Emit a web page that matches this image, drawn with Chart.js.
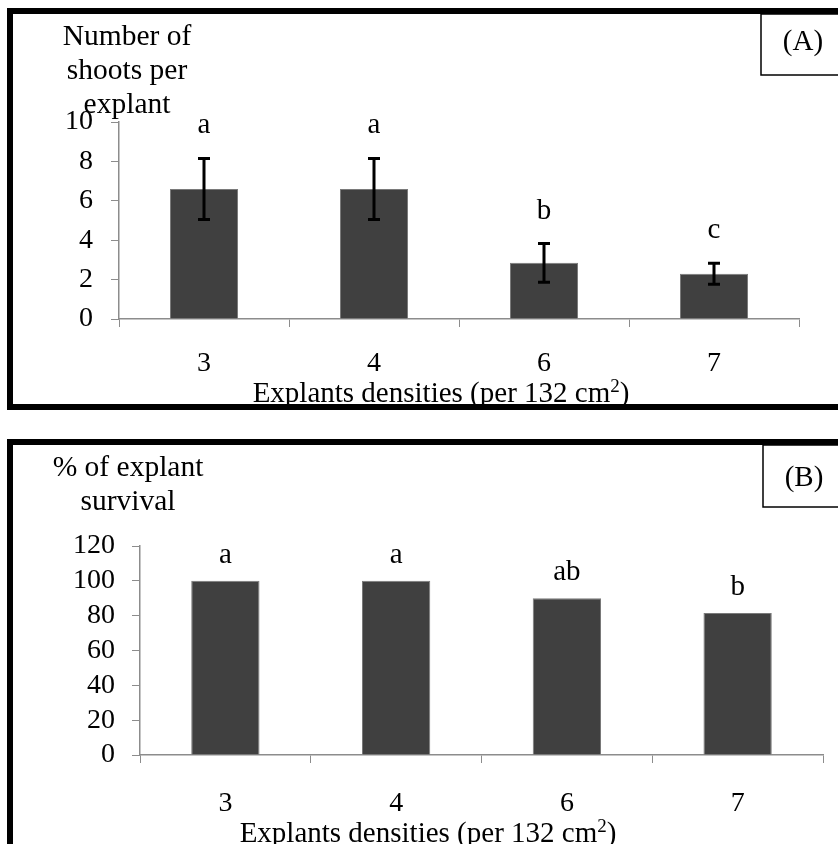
<!DOCTYPE html>
<html>
<head>
<meta charset="utf-8">
<script src="https://cdn.jsdelivr.net/npm/chart.js@4.4.1/dist/chart.umd.min.js"></script>
<style>
  body { margin: 0; background: #fff; }
  canvas { display: block; }
</style>
</head>
<body>
<canvas id="shootChart" width="838" height="420"></canvas>
<canvas id="survivalChart" width="838" height="424"></canvas>
<script>
// data
const densities = ['3', '4', '6', '7'];
const shootMeans = [6.6, 6.6, 2.85, 2.3];
const shootErrors = [1.55, 1.55, 0.98, 0.53];
const shootLetters = ['a', 'a', 'b', 'c'];
const survivalMeans = [100, 100, 90, 81.5];
const survivalLetters = ['a', 'a', 'ab', 'b'];

const FONT = "'Liberation Serif', 'Times New Roman', serif";
const AXIS_GREY = '#8c8c8c';

// draws error bars, letters, titles and the panel frame
const panelDecor = {
    id: 'panelDecor',
    beforeDraw(chart) {
        const ctx = chart.ctx;
        ctx.save();
        ctx.fillStyle = '#fff';
        ctx.fillRect(0, 0, chart.width, chart.height);
        ctx.restore();
    },
    afterDatasetsDraw(chart, args, opts) {
        const ctx = chart.ctx;
        const meta = chart.getDatasetMeta(0);
        const y = chart.scales.y;
        ctx.save();
        meta.data.forEach((bar, i) => {
            const mean = opts.means[i];
            const err = opts.errors ? opts.errors[i] : 0;
            if (opts.errors) {
                const yTop = y.getPixelForValue(mean + err);
                const yBot = y.getPixelForValue(mean - err);
                ctx.strokeStyle = '#000';
                ctx.lineWidth = 3;
                ctx.beginPath();
                ctx.moveTo(bar.x, yTop);
                ctx.lineTo(bar.x, yBot);
                ctx.moveTo(bar.x - 6, yTop);
                ctx.lineTo(bar.x + 6, yTop);
                ctx.moveTo(bar.x - 6, yBot);
                ctx.lineTo(bar.x + 6, yBot);
                ctx.stroke();
            }
            ctx.fillStyle = '#000';
            ctx.font = '29px ' + FONT;
            ctx.textAlign = 'center';
            ctx.textBaseline = 'alphabetic';
            ctx.fillText(opts.letters[i], bar.x, y.getPixelForValue(mean + err) - opts.letterGap);
        });
        ctx.restore();
    },
    afterDraw(chart, args, opts) {
        const ctx = chart.ctx;
        ctx.save();
        ctx.fillStyle = '#000';
        ctx.textBaseline = 'alphabetic';
        ctx.font = '29.5px ' + FONT;
        ctx.textAlign = 'center';
        opts.yTitle.forEach((line, i) => {
            ctx.fillText(line, opts.yTitleX, opts.yTitleY + i * 34);
        });

        // x title with superscript 2
        const main = 'Explants densities (per 132 cm';
        ctx.textAlign = 'left';
        ctx.font = '29px ' + FONT;
        const wMain = ctx.measureText(main).width;
        const wClose = ctx.measureText(')').width;
        ctx.font = '19px ' + FONT;
        const wSup = ctx.measureText('2').width;
        let x0 = opts.xTitleX - (wMain + wSup + wClose) / 2;
        ctx.font = '29px ' + FONT;
        ctx.fillText(main, x0, opts.xTitleY);
        ctx.font = '19px ' + FONT;
        ctx.fillText('2', x0 + wMain, opts.xTitleY - 10);
        ctx.font = '29px ' + FONT;
        ctx.fillText(')', x0 + wMain + wSup, opts.xTitleY);

        // frame
        const f = opts.frame;
        ctx.fillRect(7, f.top, chart.width, 6);
        ctx.fillRect(7, f.top, 6, f.bottom - f.top + 6);
        if (f.closed) ctx.fillRect(7, f.bottom, chart.width, 6);

        // panel tag box
        const b = opts.tag;
        ctx.strokeStyle = '#000';
        ctx.lineWidth = 1.5;
        ctx.strokeRect(b.left, f.top + 6, chart.width, b.bottom - f.top - 6);
        ctx.textAlign = 'center';
        ctx.font = '29px ' + FONT;
        ctx.fillText(b.text, b.textX, b.textY);
        ctx.restore();
    }
};

function makeChart(id, values, yMax, yStep, layoutPad, yWidth, xHeight, xPad, yPad, decor) {
    return new Chart(document.getElementById(id).getContext('2d'), {
        type: 'bar',
        data: {
            labels: densities,
            datasets: [{
                data: values,
                backgroundColor: '#404040',
                borderColor: '#7a7a7a',
                borderWidth: 1,
                categoryPercentage: 1,
                barPercentage: 0.4
            }]
        },
        options: {
            responsive: false,
            animation: false,
            layout: { padding: layoutPad },
            plugins: {
                legend: { display: false },
                tooltip: { enabled: false },
                panelDecor: decor
            },
            scales: {
                x: {
                    afterFit: (s) => { s.height = xHeight; },
                    grid: { drawOnChartArea: false, drawTicks: true, tickLength: 8, color: AXIS_GREY, offset: true },
                    border: { color: AXIS_GREY, width: 1.5 },
                    ticks: { color: '#000', font: { family: FONT, size: 28 }, padding: xPad }
                },
                y: {
                    min: 0,
                    max: yMax,
                    afterFit: (s) => { s.width = yWidth; },
                    grid: { drawOnChartArea: false, drawTicks: true, tickLength: 8, color: AXIS_GREY },
                    border: { color: AXIS_GREY, width: 1.5 },
                    ticks: { stepSize: yStep, autoSkip: false, color: '#000', font: { family: FONT, size: 28 }, padding: yPad }
                }
            }
        },
        plugins: [panelDecor]
    });
}

makeChart('shootChart', shootMeans, 10, 2,
    { left: 0, right: 39, top: 122, bottom: 0 }, 119, 101, 20, 18,
    {
        means: shootMeans, errors: shootErrors, letters: shootLetters, letterGap: 25,
        yTitle: ['Number of', 'shoots per', 'explant'], yTitleX: 127, yTitleY: 45,
        xTitleX: 441, xTitleY: 402,
        frame: { top: 8, bottom: 404, closed: true },
        tag: { left: 761, bottom: 75, text: '(A)', textX: 803, textY: 50 }
    });

makeChart('survivalChart', survivalMeans, 120, 20,
    { left: 0, right: 15, top: 126, bottom: 0 }, 140, 89, 24, 17,
    {
        means: survivalMeans, errors: null, letters: survivalLetters, letterGap: 18,
        yTitle: ['% of explant', 'survival'], yTitleX: 128, yTitleY: 56,
        xTitleX: 428, xTitleY: 422,
        frame: { top: 19, bottom: 500, closed: false },
        tag: { left: 763, bottom: 87, text: '(B)', textX: 804, textY: 66 }
    });
</script>
</body>
</html>
